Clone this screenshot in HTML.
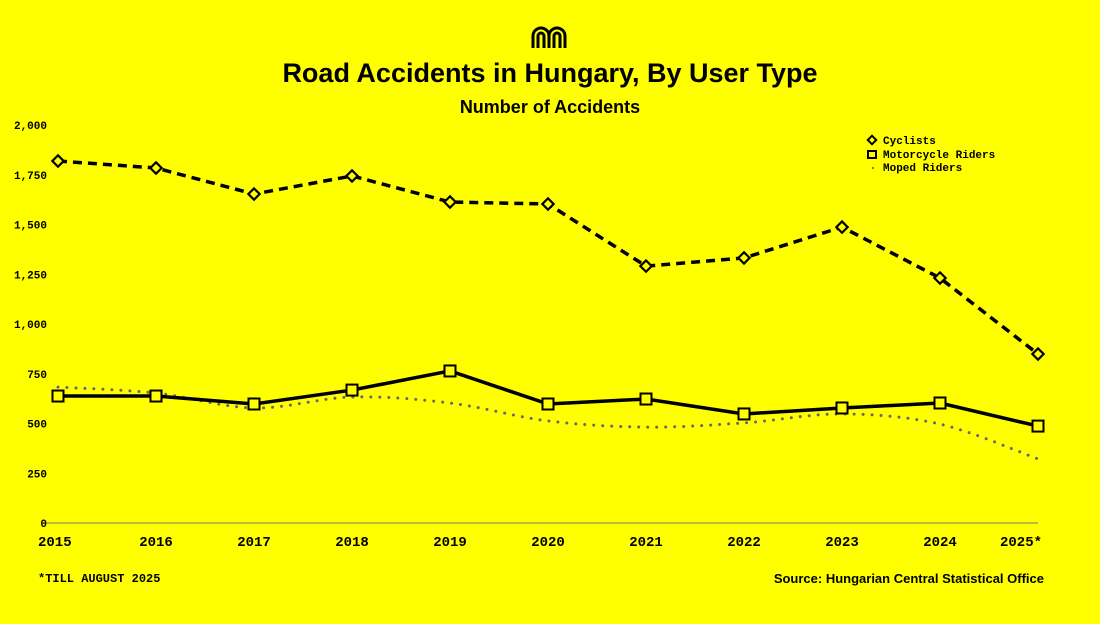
<!DOCTYPE html>
<html><head><meta charset="utf-8"><style>
html,body{margin:0;padding:0;background:#ffff00;}
body{width:1100px;height:619px;overflow:hidden;font-family:"Liberation Sans",sans-serif;}
svg text{fill:#000;}
.mono{font-family:"Liberation Mono",monospace;font-weight:bold;}
</style></head><body>
<svg id="chart" width="1100" height="619" xmlns="http://www.w3.org/2000/svg">
<g fill="none" stroke="#000" stroke-width="3">
<path d="M533,48 V36 a8,8 0 0 1 16,0 V48 M549,36 a8,8 0 0 1 16,0 V48 M538,48 V36 a3,3 0 0 1 6,0 V48 M554,48 V36 a3,3 0 0 1 6,0 V48"/>
</g>
<text x="550" y="82" text-anchor="middle" font-size="27" font-weight="bold">Road Accidents in Hungary, By User Type</text>
<text x="550" y="113" text-anchor="middle" font-size="18" font-weight="bold">Number of Accidents</text>
<g id="axes"></g>
<g id="series"></g>
<g class="mono" font-size="11">
<rect x="869" y="137" width="6" height="6" fill="none" stroke="#000" stroke-width="2" transform="rotate(45 872 140)"/>
<text x="883" y="144">Cyclists</text>
<rect x="868" y="151" width="8" height="7" fill="none" stroke="#000" stroke-width="2"/>
<text x="883" y="158">Motorcycle Riders</text>
<circle cx="873" cy="168" r="1" fill="#555"/>
<text x="883" y="171">Moped Riders</text>
</g>
<text class="mono" x="38" y="582" font-size="12">*TILL AUGUST 2025</text>
<text x="1044" y="583" text-anchor="end" font-size="13" font-weight="bold">Source: Hungarian Central Statistical Office</text>
</svg>
<script>
const years=["2015","2016","2017","2018","2019","2020","2021","2022","2023","2024","2025*"];
const yTicks=[0,250,500,750,1000,1250,1500,1750,2000];
const yTickLabels=["0","250","500","750","1,000","1,250","1,500","1,750","2,000"];
const cyclists=[1819,1784,1653,1744,1613,1603,1291,1332,1487,1231,849];
const motorcycle=[638,638,598,668,764,598,623,548,578,603,487];
const moped=[683,653,578,633,603,513,482,503,548,497,322];
const NS="http://www.w3.org/2000/svg";
const x0=58,x1=1038,y0=523,y1=125;
const xs=i=>x0+(x1-x0)*i/(years.length-1);
const ys=v=>y0-(y0-y1)*v/2000;
function mk(t,a,p){const e=document.createElementNS(NS,t);for(const k in a)e.setAttribute(k,a[k]);p.appendChild(e);return e;}
const ax=document.getElementById('axes'),se=document.getElementById('series');
const base=mk('line',{x1:42,x2:x1,y1:y0,y2:y0,stroke:'#777','stroke-width':1},ax);


yTicks.forEach((v,i)=>{const t=mk('text',{x:47,y:ys(v)+4,'font-size':11,class:'mono','text-anchor':'end'},ax);t.textContent=yTickLabels[i];

});
years.forEach((y,i)=>{const t=mk('text',{x:xs(i)-(i==0?20:i==years.length-1?17:0),y:546,'font-size':14,class:'mono','text-anchor':i==0?'start':'middle'},ax);t.textContent=y;

});
const mp=moped.map((v,i)=>[xs(i),ys(v)]);
let d=`M${mp[0][0]},${mp[0][1]}`;
for(let i=0;i<mp.length-1;i++){const p0=mp[Math.max(0,i-1)],p1=mp[i],p2=mp[i+1],p3=mp[Math.min(mp.length-1,i+2)];
d+=` C${p1[0]+(p2[0]-p0[0])/6},${p1[1]+(p2[1]-p0[1])/6} ${p2[0]-(p3[0]-p1[0])/6},${p2[1]-(p3[1]-p1[1])/6} ${p2[0]},${p2[1]}`;}
const ml=mk('path',{d:d,fill:'none',stroke:'#666','stroke-width':3,'stroke-dasharray':'0 9','stroke-linecap':'round'},se);


const cl=mk('polyline',{points:cyclists.map((v,i)=>xs(i)+','+ys(v)).join(' '),fill:'none',stroke:'#000','stroke-width':3.5,'stroke-dasharray':'9 6'},se);


const mo=mk('polyline',{points:motorcycle.map((v,i)=>xs(i)+','+ys(v)).join(' '),fill:'none',stroke:'#000','stroke-width':3.5},se);


cyclists.forEach((v,i)=>{const r=mk('rect',{x:xs(i)-4,y:ys(v)-4,width:8,height:8,fill:'#ffff00',stroke:'#000','stroke-width':2.2,transform:`rotate(45 ${xs(i)} ${ys(v)})`},se);

});
motorcycle.forEach((v,i)=>{const r=mk('rect',{x:xs(i)-5.5,y:ys(v)-5.5,width:11,height:11,fill:'#ffff00',stroke:'#000','stroke-width':2},se);

});
</script>
</body></html>
